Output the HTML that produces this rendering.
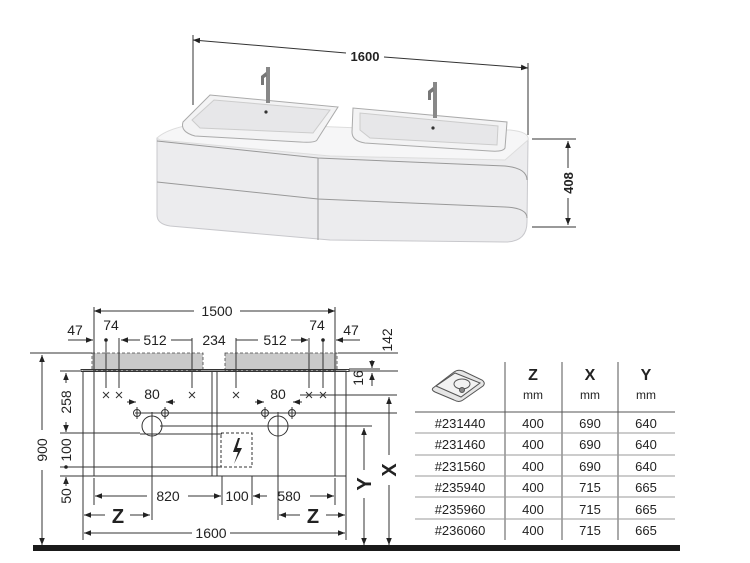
<!DOCTYPE html>
<html><head><meta charset="utf-8"><style>
html,body{margin:0;padding:0;background:#fff;}
svg{display:block;}
text{font-family:"Liberation Sans Narrow","Liberation Sans",sans-serif;fill:#222;}
</style></head><body>
<svg width="750" height="563" viewBox="0 0 750 563" xmlns="http://www.w3.org/2000/svg">
<defs>
<marker id="a" viewBox="0 0 10 10" refX="10" refY="5" markerWidth="7" markerHeight="7" orient="auto-start-reverse"><path d="M0,1 L10,5 L0,9 z" fill="#222"/></marker>
</defs>
<!-- ===== Top perspective ===== -->
<g stroke="#333" fill="none" stroke-width="1">
<line x1="193" y1="35" x2="193" y2="105"/>
<line x1="528" y1="63" x2="528" y2="135"/>
<line x1="193" y1="40" x2="346" y2="53" marker-start="url(#a)"/>
<line x1="384" y1="57" x2="528" y2="68" marker-end="url(#a)"/>
<line x1="532" y1="139" x2="576" y2="139"/>
<line x1="532" y1="227" x2="576" y2="227"/>
<line x1="568" y1="141" x2="568" y2="168" marker-start="url(#a)"/>
<line x1="568" y1="198" x2="568" y2="225" marker-end="url(#a)"/>
</g>
<text x="365" y="61" font-size="13" font-weight="bold" text-anchor="middle">1600</text>
<text transform="translate(573,183) rotate(-90)" font-size="13" font-weight="bold" text-anchor="middle">408</text>
<!-- cabinet -->
<path d="M157,138 Q180,128 220,128 L500,132 Q530,134 528,140 L527,222 Q527,242 505,242 L330,240 L170,226 Q157,224 157,215 Z" fill="#ececee" stroke="#c8c8cc"/>
<path d="M157,141 L318,158 L505,166 Q527,168 527,180" fill="none" stroke="#999"/>
<path d="M157,182 L318,199 L505,207 Q527,208 527,218" fill="none" stroke="#999"/>
<line x1="318" y1="158" x2="318" y2="240" stroke="#999"/>
<!-- countertop -->
<path d="M157,138 Q170,126 210,122 L360,128 L510,130 Q530,132 528,140 L505,160 L330,156 L160,140 Z" fill="#f6f6f7" stroke="#ddd"/>
<!-- basins -->
<path d="M183,122 L210,95 L338,107 L317,140 Q315,143 300,142 L195,136 Q180,132 183,122 Z" fill="#f3f3f4" stroke="#aaa"/>
<path d="M192,120 L214,100 L330,110 L313,133 L200,128 Z" fill="#e7e7e9" stroke="#ccc"/>
<path d="M352,132 L353,108 L507,122 L505,148 Q503,152 490,151 L365,143 Q352,141 352,132 Z" fill="#f3f3f4" stroke="#aaa"/>
<path d="M360,130 L360,113 L498,126 L497,145 L370,138 Z" fill="#e7e7e9" stroke="#ccc"/>
<circle cx="266" cy="112" r="1.6" fill="#333"/>
<circle cx="433" cy="128" r="1.6" fill="#333"/>
<rect x="266" y="67" width="4" height="36" fill="#888"/>
<path d="M266,72 L261,76 L261,85 L264,85 L264,78 L267,76 Z" fill="#777"/>
<rect x="433" y="82" width="4" height="36" fill="#888"/>
<path d="M433,87 L428,91 L428,100 L431,100 L431,93 L434,91 Z" fill="#777"/>

<!-- ===== Bottom front view ===== -->
<rect x="33" y="545" width="647" height="6" fill="#1a1a1a"/>
<rect x="92" y="353" width="111" height="17" fill="#c9c9c9" stroke="#444" stroke-dasharray="3,2" stroke-width="0.8"/>
<rect x="225" y="353" width="112" height="17" fill="#c9c9c9" stroke="#444" stroke-dasharray="3,2" stroke-width="0.8"/>
<g stroke="#333" fill="none" stroke-width="1">
<rect x="81" y="369.5" width="268" height="2"/>
<rect x="83" y="371" width="263" height="105"/>
<line x1="94" y1="371" x2="94" y2="476"/>
<line x1="212" y1="371" x2="212" y2="476"/>
<line x1="217" y1="371" x2="217" y2="476"/>
<line x1="335" y1="371" x2="335" y2="476"/>
<line x1="94" y1="307" x2="94" y2="370"/>
<line x1="335" y1="307" x2="335" y2="370"/>
<line x1="94" y1="311" x2="194" y2="311" marker-start="url(#a)"/>
<line x1="240" y1="311" x2="335" y2="311" marker-end="url(#a)"/>
<line x1="68" y1="340" x2="93" y2="340" marker-end="url(#a)"/>
<line x1="360" y1="340" x2="336" y2="340" marker-end="url(#a)"/>
<line x1="121" y1="340" x2="140" y2="340" marker-start="url(#a)"/>
<line x1="171" y1="340" x2="192" y2="340"/>
<line x1="236" y1="340" x2="258" y2="340"/>
<line x1="291" y1="340" x2="308" y2="340" marker-end="url(#a)"/>
<line x1="106" y1="340" x2="106" y2="388"/>
<line x1="119" y1="338" x2="119" y2="388"/>
<line x1="192" y1="338" x2="192" y2="388"/>
<line x1="236" y1="338" x2="236" y2="388"/>
<line x1="309" y1="338" x2="309" y2="388"/>
<line x1="323" y1="340" x2="323" y2="388"/>
<line x1="30" y1="353" x2="92" y2="353"/>
<line x1="42" y1="355" x2="42" y2="430" marker-start="url(#a)"/>
<line x1="42" y1="470" x2="42" y2="545" marker-end="url(#a)"/>
<line x1="60" y1="371" x2="80" y2="371"/>
<line x1="66" y1="373" x2="66" y2="383" marker-start="url(#a)"/>
<line x1="66" y1="422" x2="66" y2="432" marker-end="url(#a)"/>
<line x1="60" y1="433" x2="140" y2="433"/>
<line x1="60" y1="467" x2="222" y2="467"/>
<line x1="60" y1="476" x2="83" y2="476"/>
<line x1="66" y1="481" x2="66" y2="477" marker-end="url(#a)"/>
<line x1="66" y1="481" x2="66" y2="486"/>
<line x1="338" y1="353" x2="398" y2="353"/>
<line x1="349" y1="371" x2="398" y2="371"/>
<line x1="349" y1="369" x2="380" y2="369"/>
<line x1="372" y1="360" x2="372" y2="368" marker-end="url(#a)"/>
<line x1="372" y1="386" x2="372" y2="373" marker-end="url(#a)"/>
<line x1="300" y1="395" x2="397" y2="395"/>
<line x1="135" y1="413" x2="397" y2="413"/>
<line x1="160" y1="426" x2="372" y2="426"/>
<line x1="140" y1="434" x2="222" y2="434"/>
<line x1="127" y1="402" x2="136" y2="402" marker-end="url(#a)"/>
<line x1="175" y1="402" x2="166" y2="402" marker-end="url(#a)"/>
<line x1="255" y1="402" x2="264" y2="402" marker-end="url(#a)"/>
<line x1="302" y1="402" x2="293" y2="402" marker-end="url(#a)"/>
<circle cx="137" cy="413" r="3.5"/><line x1="137" y1="407" x2="137" y2="419"/>
<circle cx="165" cy="413" r="3.5"/><line x1="165" y1="407" x2="165" y2="419"/>
<circle cx="265" cy="413" r="3.5"/><line x1="265" y1="407" x2="265" y2="419"/>
<circle cx="292" cy="413" r="3.5"/><line x1="292" y1="407" x2="292" y2="419"/>
<circle cx="152" cy="426" r="10"/>
<circle cx="278" cy="426" r="10"/>
<line x1="152" y1="412" x2="152" y2="520"/>
<line x1="278" y1="412" x2="278" y2="520"/>
<rect x="221" y="433" width="31" height="34" stroke-dasharray="3,2"/>
<line x1="94" y1="478" x2="94" y2="505"/>
<line x1="222" y1="476" x2="222" y2="505"/>
<line x1="252" y1="476" x2="252" y2="505"/>
<line x1="335" y1="478" x2="335" y2="505"/>
<line x1="95" y1="496" x2="147" y2="496" marker-start="url(#a)"/>
<line x1="188" y1="496" x2="221" y2="496" marker-end="url(#a)"/>
<line x1="253" y1="496" x2="267" y2="496" marker-start="url(#a)"/>
<line x1="310" y1="496" x2="334" y2="496" marker-end="url(#a)"/>
<line x1="83" y1="476" x2="83" y2="540"/>
<line x1="346" y1="476" x2="346" y2="540"/>
<line x1="84" y1="515" x2="105" y2="515" marker-start="url(#a)"/>
<line x1="130" y1="515" x2="150" y2="515" marker-end="url(#a)"/>
<line x1="279" y1="515" x2="300" y2="515" marker-start="url(#a)"/>
<line x1="326" y1="515" x2="345" y2="515" marker-end="url(#a)"/>
<line x1="84" y1="533" x2="192" y2="533" marker-start="url(#a)"/>
<line x1="230" y1="533" x2="345" y2="533" marker-end="url(#a)"/>
<line x1="364" y1="428" x2="364" y2="470" marker-start="url(#a)"/>
<line x1="364" y1="498" x2="364" y2="545" marker-end="url(#a)"/>
<line x1="389" y1="397" x2="389" y2="455" marker-start="url(#a)"/>
<line x1="389" y1="485" x2="389" y2="545" marker-end="url(#a)"/>
</g>
<path d="M238,438 L233,452 L238,452 L234,464 L242,448 L237,448 L240,438 Z" fill="#222"/>
<circle cx="106" cy="340" r="1.8" fill="#222"/>
<circle cx="323" cy="340" r="1.8" fill="#222"/>
<circle cx="66" cy="467" r="1.8" fill="#222"/>
<g stroke="#333" stroke-width="1">
<path d="M103,392 l6,6 M109,392 l-6,6"/><path d="M116,392 l6,6 M122,392 l-6,6"/><path d="M189,392 l6,6 M195,392 l-6,6"/>
<path d="M233,392 l6,6 M239,392 l-6,6"/><path d="M306,392 l6,6 M312,392 l-6,6"/><path d="M320,392 l6,6 M326,392 l-6,6"/>
</g>
<g font-size="14" text-anchor="middle">
<text x="217" y="316">1500</text>
<text x="75" y="335">47</text>
<text x="111" y="330">74</text>
<text x="155" y="345">512</text>
<text x="214" y="345">234</text>
<text x="275" y="345">512</text>
<text x="317" y="330">74</text>
<text x="351" y="335">47</text>
<text x="152" y="399">80</text>
<text x="278" y="399">80</text>
<text x="168" y="501">820</text>
<text x="237" y="501">100</text>
<text x="289" y="501">580</text>
<text x="211" y="538">1600</text>
<text transform="translate(47,450) rotate(-90)">900</text>
<text transform="translate(71,402) rotate(-90)">258</text>
<text transform="translate(71,450) rotate(-90)">100</text>
<text transform="translate(71,496) rotate(-90)">50</text>
<text transform="translate(392,340) rotate(-90)">142</text>
<text transform="translate(363,378) rotate(-90)">16</text>
</g>
<g font-size="20" font-weight="bold" text-anchor="middle">
<text x="118" y="523">Z</text>
<text x="313" y="523">Z</text>
<text transform="translate(371,484) rotate(-90)">Y</text>
<text transform="translate(396,470) rotate(-90)">X</text>
</g>

<!-- ===== Table ===== -->
<g stroke="#555" stroke-width="1">
<line x1="505" y1="362" x2="505" y2="540"/>
<line x1="562" y1="362" x2="562" y2="540"/>
<line x1="618" y1="362" x2="618" y2="540"/>
<line x1="415" y1="412" x2="675" y2="412"/>
<line x1="415" y1="433" x2="675" y2="433" stroke="#999"/>
<line x1="415" y1="455" x2="675" y2="455" stroke="#999"/>
<line x1="415" y1="476" x2="675" y2="476" stroke="#999"/>
<line x1="415" y1="497" x2="675" y2="497" stroke="#999"/>
<line x1="415" y1="519" x2="675" y2="519" stroke="#999"/>
</g>
<g stroke="#555" fill="#e6e6e6" stroke-width="1">
<path d="M433,388 L454,372 Q458,369 463,371 L482,380 Q486,383 483,386 L463,400 Q459,403 454,400 L435,392 Q431,390 433,388 Z"/>
<path d="M436,386 L455,373 L480,383 L461,397 Z" fill="#f2f2f2"/>
<ellipse cx="462" cy="384" rx="8" ry="5" fill="none"/>
<circle cx="462" cy="390" r="2.5" fill="#888"/>
</g>
<g font-family="Liberation Sans" text-anchor="middle">
<text x="533" y="380" font-size="16" font-weight="bold">Z</text>
<text x="590" y="380" font-size="16" font-weight="bold">X</text>
<text x="646" y="380" font-size="16" font-weight="bold">Y</text>
<text x="533" y="399" font-size="12">mm</text>
<text x="590" y="399" font-size="12">mm</text>
<text x="646" y="399" font-size="12">mm</text>
</g>
<g font-family="Liberation Sans" font-size="13" text-anchor="middle">
<text x="460" y="428">#231440</text><text x="533" y="428">400</text><text x="590" y="428">690</text><text x="646" y="428">640</text>
<text x="460" y="449">#231460</text><text x="533" y="449">400</text><text x="590" y="449">690</text><text x="646" y="449">640</text>
<text x="460" y="471">#231560</text><text x="533" y="471">400</text><text x="590" y="471">690</text><text x="646" y="471">640</text>
<text x="460" y="492">#235940</text><text x="533" y="492">400</text><text x="590" y="492">715</text><text x="646" y="492">665</text>
<text x="460" y="514">#235960</text><text x="533" y="514">400</text><text x="590" y="514">715</text><text x="646" y="514">665</text>
<text x="460" y="535">#236060</text><text x="533" y="535">400</text><text x="590" y="535">715</text><text x="646" y="535">665</text>
</g>
</svg>
</body></html>
